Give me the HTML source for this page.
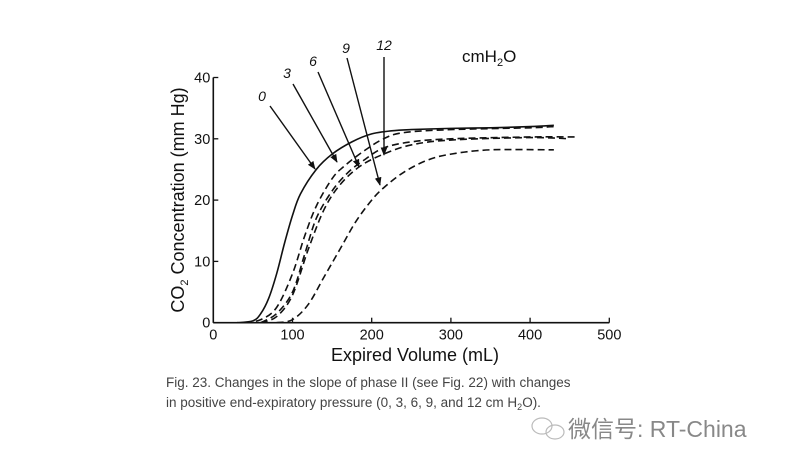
<!DOCTYPE html>
<html><head><meta charset="utf-8"><style>
body{margin:0;background:#fff;}
svg{display:block;font-family:"Liberation Sans",Arial,sans-serif;}
</style></head><body>
<svg width="800" height="464" viewBox="0 0 800 464" xmlns="http://www.w3.org/2000/svg">
<g id="axes"></g>
<g id="series"></g>
<g id="ann"></g>
<text x="462" y="62" font-size="17" fill="#111">cmH<tspan font-size="11" dy="4">2</tspan><tspan dy="-4">O</tspan></text>
<text x="415" y="361" font-size="18" text-anchor="middle" fill="#111">Expired Volume (mL)</text>
<text transform="translate(184,200) rotate(-90)" font-size="18" text-anchor="middle" fill="#111">CO<tspan font-size="11" dy="4">2</tspan><tspan dy="-4"> Concentration (mm Hg)</tspan></text>
<text x="166" y="387" font-size="13.5" fill="#444">Fig. 23. Changes in the slope of phase II (see Fig. 22) with changes</text>
<text x="166" y="407" font-size="13.5" fill="#444">in positive end-expiratory pressure (0, 3, 6, 9, and 12 cm H<tspan font-size="9" dy="3">2</tspan><tspan dy="-3">O).</tspan></text>
<g>
<ellipse cx="542" cy="426" rx="10" ry="8" fill="none" stroke="#bbb" stroke-width="1.2"/>
<ellipse cx="555" cy="432" rx="9" ry="7" fill="none" stroke="#bbb" stroke-width="1.2"/>
<text x="568" y="437" font-size="23" fill="#888" font-family="'Liberation Sans','Noto Sans CJK SC',sans-serif">微信号: RT-China</text>
</g>
</svg>
<script>
const xTicks=[0,100,200,300,400,500];
const yTicks=[0,10,20,30,40];
const curveNames=['0','3','6','9','12'];
const c0x=[30,50,60,70,80,90,100,110,130,150,175,200,225,250,300,350,400,430];
const c0y=[0,0.3,1.5,4,8,13,17.5,21,25,27.5,29.5,30.8,31.3,31.5,31.7,31.8,32,32.2];
const c3x=[40,60,80,100,115,130,150,165,190,215,240,300,400,430];
const c3y=[0,0.5,2.5,8,14,19,23.5,25.5,28,30,31,31.5,31.8,32];
const c6x=[60,80,100,115,130,150,170,190,215,250,300,400,460];
const c6y=[0,1.5,5,11,17,21.5,24.5,26.5,28.5,29.5,30,30.3,30.3];
const c9x=[60,80,100,120,140,160,185,215,250,300,400,450];
const c9y=[0,1,4.5,12,18.5,22.5,25.5,27.5,29,29.8,30.2,30];
const c12x=[80,100,120,140,160,180,200,215,240,270,300,350,430];
const c12y=[0,0.5,3,7.5,12,16.5,20,22,24.5,26.5,27.5,28.2,28.2];
const NS='http://www.w3.org/2000/svg';
const X=v=>213.3+v*0.792;
const Y=v=>322.7-v*6.13;
function mk(t,a,p){const e=document.createElementNS(NS,t);for(const k in a)e.setAttribute(k,a[k]);p.appendChild(e);return e;}
const ax=document.getElementById('axes');
let l=mk('line',{x1:X(0),y1:Y(0),x2:X(500),y2:Y(0),stroke:'#111','stroke-width':1.6},ax);


l=mk('line',{x1:X(0),y1:Y(0),x2:X(0),y2:Y(40),stroke:'#111','stroke-width':1.6},ax);


xTicks.forEach(v=>{
 mk('line',{x1:X(v),y1:Y(0),x2:X(v),y2:Y(0)-5,stroke:'#111','stroke-width':1.3},ax);
 const t=mk('text',{x:X(v),y:Y(0)+17,'font-size':14.5,'text-anchor':'middle',fill:'#111'},ax);
 t.textContent=v;
 
 
});
yTicks.forEach(v=>{
 mk('line',{x1:X(0),y1:Y(v),x2:X(0)+5,y2:Y(v),stroke:'#111','stroke-width':1.3},ax);
 const t=mk('text',{x:X(0)-3,y:Y(v)+5,'font-size':14.5,'text-anchor':'end',fill:'#111'},ax);
 t.textContent=v;
 
 
});
const sx=[c0x,c3x,c6x,c9x,c12x], sy=[c0y,c3y,c6y,c9y,c12y];
const sg=document.getElementById('series');
sx.forEach((xs,i)=>{
 const pts=xs.map((x,j)=>[X(x),Y(sy[i][j])]);
 let d='M'+pts[0][0]+','+pts[0][1];
 for(let j=0;j<pts.length-1;j++){
  const p0=pts[j-1]||pts[j],p1=pts[j],p2=pts[j+1],p3=pts[j+2]||p2;
  d+=' C'+(p1[0]+(p2[0]-p0[0])/6)+','+(p1[1]+(p2[1]-p0[1])/6)+' '+(p2[0]-(p3[0]-p1[0])/6)+','+(p2[1]-(p3[1]-p1[1])/6)+' '+p2[0]+','+p2[1];
 }
 const p=mk('path',{d:d,fill:'none',stroke:'#111','stroke-width':1.6,'stroke-dasharray':i===0?'none':'7,4'},sg);
 
 
});
const an=document.getElementById('ann');
mk('defs',{},an).innerHTML='<marker id="ah" viewBox="0 0 10 10" refX="9" refY="5" markerWidth="6" markerHeight="6" orient="auto"><path d="M0,1 L10,5 L0,9 z" fill="#111"/></marker>';
const labs=[[262,101,'0',270,106,315,169],[287,78,'3',293,84,337,162],[313,66,'6',318,72,359,167],[346,53,'9',347,58,380,185],[384,50,'12',384,57,384,155]];
labs.forEach(a=>{
 const t=mk('text',{x:a[0],y:a[1],'font-size':14,'font-style':'italic','text-anchor':'middle',fill:'#111'},an);
 t.textContent=a[2];
 
 
 const ln=mk('line',{x1:a[3],y1:a[4],x2:a[5],y2:a[6],stroke:'#111','stroke-width':1.4,'marker-end':'url(#ah)'},an);
 
 
});
</script>
</body></html>
